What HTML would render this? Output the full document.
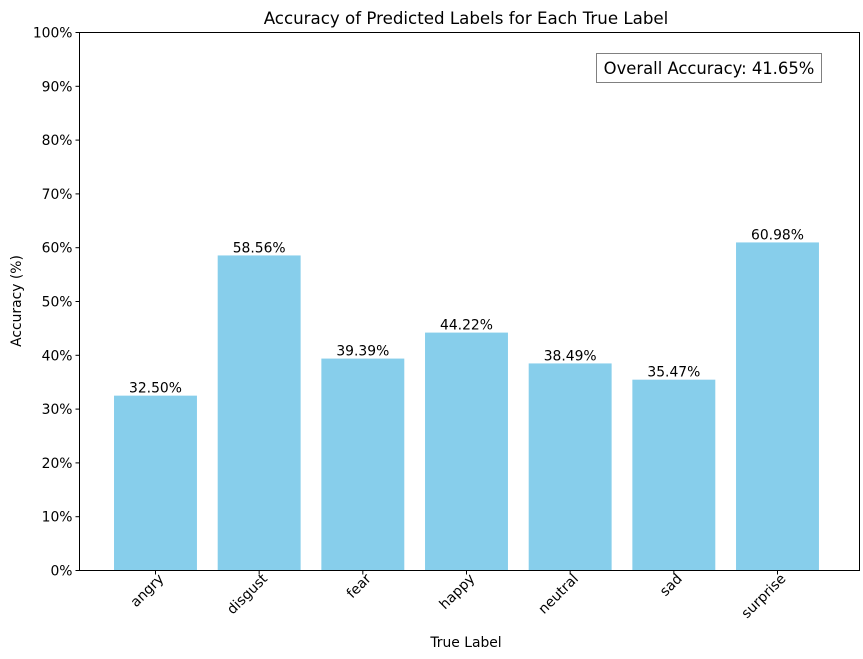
<!DOCTYPE html>
<html><head><meta charset="utf-8"><style>
body{margin:0;background:#fff;}
svg{display:block;font-family:"DejaVu Sans","Liberation Sans",sans-serif;}
</style></head><body>
<svg id="chart" width="863" height="659">
<text x="466" y="24" font-size="16.67" text-anchor="middle">Accuracy of Predicted Labels for Each True Label</text>
<g id="bars"></g><g id="yticks"></g><g id="xticks"></g>
<rect x="79.5" y="32.5" width="780" height="538" fill="none" stroke="#000" stroke-width="1"/>
<text x="466" y="647" font-size="13.89" text-anchor="middle">True Label</text>
<text transform="translate(21,301) rotate(-90)" font-size="13.89" text-anchor="middle">Accuracy (%)</text>
<g>
<rect x="596.5" y="53.5" width="225" height="29" fill="#fff" stroke="#808080"/>
<text x="709" y="74" font-size="16.4" text-anchor="middle">Overall Accuracy: 41.65%</text>
</g>
</svg>
<script>
const categories=["angry","disgust","fear","happy","neutral","sad","surprise"];
const values=[32.50,58.56,39.39,44.22,38.49,35.47,60.98];
const yTicks=[0,10,20,30,40,50,60,70,80,90,100];
const L=79.5,R=859.5,T=32.5,B=570.5;
const xmin=-0.733,xmax=6.791;
const xs=i=>L+(i-xmin)/(xmax-xmin)*(R-L);
const ys=v=>B-v/100*(B-T);
const bw=0.8*(R-L)/(xmax-xmin);
const ns="http://www.w3.org/2000/svg";
function mk(t,a,p){const e=document.createElementNS(ns,t);for(const k in a)e.setAttribute(k,a[k]);p.appendChild(e);return e;}
const gb=document.getElementById('bars'),gy=document.getElementById('yticks'),gx=document.getElementById('xticks');
categories.forEach((c,i)=>{
 const r=mk('rect',{x:xs(i)-bw/2,y:ys(values[i]),width:bw,height:B-ys(values[i]),fill:'#87ceeb'},gb);
 
 
 const t=mk('text',{x:xs(i),y:ys(values[i])-3,'font-size':13.89,'text-anchor':'middle'},gb);
 t.textContent=values[i].toFixed(2)+'%';
 
 
 mk('line',{x1:xs(i),x2:xs(i),y1:B,y2:B+4,stroke:'#000'},gx);
 const xl=mk('text',{transform:`translate(${xs(i)+9},${B+9}) rotate(-45)`,'font-size':13.89,'text-anchor':'end'},gx);
 xl.textContent=c;
 
 
});
yTicks.forEach(v=>{
 mk('line',{x1:L-4,x2:L,y1:ys(v),y2:ys(v),stroke:'#000'},gy);
 const t=mk('text',{x:L-7,y:ys(v)+5,'font-size':13.89,'text-anchor':'end'},gy);
 t.textContent=v+'%';
 
 
});
</script>
</body></html>
